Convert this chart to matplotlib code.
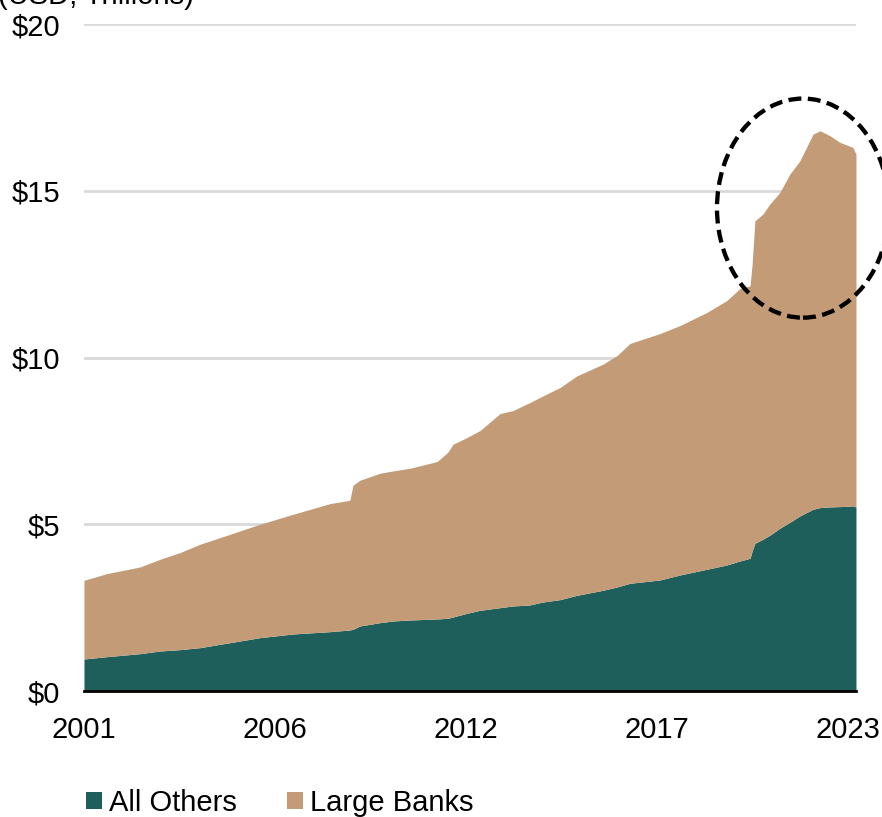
import matplotlib
matplotlib.use("Agg")
import matplotlib.pyplot as plt
from matplotlib.patches import Ellipse

# Weekly deposit levels sampled at turning points ($ trillions)
dates = [2001.00, 2001.66, 2002.62, 2003.20, 2003.77, 2004.35, 2005.22, 2006.08,
         2007.04, 2008.11, 2008.68, 2008.77, 2008.97, 2009.55, 2009.93, 2010.42,
         2011.20, 2011.51, 2011.66, 2012.06, 2012.44, 2013.02, 2013.39, 2013.88,
         2014.26, 2014.75, 2015.24, 2015.99, 2016.40, 2016.77, 2017.64, 2018.22,
         2018.99, 2019.57, 2019.95, 2020.24, 2020.30, 2020.38, 2020.61, 2020.81,
         2021.10, 2021.39, 2021.68, 2022.06, 2022.26, 2022.55, 2022.84, 2023.21,
         2023.30]

all_others = [0.96, 1.03, 1.12, 1.20, 1.24, 1.30, 1.45, 1.60,
              1.71, 1.78, 1.83, 1.85, 1.95, 2.05, 2.10, 2.13,
              2.16, 2.18, 2.22, 2.33, 2.42, 2.50, 2.55, 2.58,
              2.67, 2.74, 2.87, 3.02, 3.12, 3.23, 3.33, 3.48,
              3.65, 3.78, 3.90, 3.98, 4.20, 4.43, 4.55, 4.67,
              4.88, 5.06, 5.25, 5.45, 5.50, 5.52, 5.53, 5.55,
              5.52]

# All commercial bank deposits (All Others + Large Banks)
total_deposits = [3.32, 3.52, 3.72, 3.95, 4.15, 4.40, 4.70, 5.00,
                  5.30, 5.62, 5.72, 6.17, 6.32, 6.53, 6.60, 6.68,
                  6.88, 7.16, 7.40, 7.60, 7.81, 8.32, 8.41, 8.65,
                  8.85, 9.10, 9.45, 9.80, 10.06, 10.42, 10.72, 10.96,
                  11.35, 11.71, 12.07, 12.15, 12.80, 14.10, 14.30, 14.60,
                  14.95, 15.50, 15.90, 16.70, 16.80, 16.65, 16.45, 16.30,
                  16.10]

series_names = ["All Others", "Large Banks"]
x_tick_labels = ["2001", "2006", "2012", "2017", "2023"]
x_tick_step = 5.52  # years between labelled ticks
y_ticks = [0, 5, 10, 15, 20]
y_tick_labels = ["$0", "$5", "$10", "$15", "$20"]

teal = "#1e5e5b"
tan = "#c39c77"

plt.rcParams["font.family"] = ["Liberation Sans", "DejaVu Sans"]

fig = plt.figure(figsize=(8.82, 8.17), dpi=100)
ax = fig.add_axes([0.0952, 0.1542, 0.8753, 0.8164])

ax.fill_between(dates, 0, all_others, color=teal, linewidth=0, label=series_names[0])
ax.fill_between(dates, all_others, total_deposits, color=tan, linewidth=0,
                label=series_names[1])

x_start, x_end = dates[0], dates[-1]
ax.set_xlim(x_start, x_end)
ax.set_ylim(0, 20)

ax.set_xticks([x_start + i * x_tick_step for i in range(len(x_tick_labels))])
ax.set_xticklabels(x_tick_labels)
ax.set_yticks(y_ticks)
ax.set_yticklabels(y_tick_labels)

ax.tick_params(axis="both", length=0, labelsize=21, colors="black")
ax.tick_params(axis="y", pad=17)
ax.tick_params(axis="x", pad=18)

ax.grid(axis="y", color="#d9d9d9", linewidth=2)
ax.set_axisbelow(True)
for side in ["left", "right", "top"]:
    ax.spines[side].set_visible(False)
ax.spines["bottom"].set_color("black")
ax.spines["bottom"].set_linewidth(2)
ax.spines["bottom"].set_zorder(5)

# Highlight the post-2020 surge
ax.add_patch(Ellipse((2021.77, 14.48), 4.97, 6.57, fill=False, edgecolor="black",
                     linestyle=(0, (3.0, 1.5)), linewidth=3.1, clip_on=False, zorder=6))

fig.text(-0.002, 0.9957, "(USD, Trillions)", fontsize=21, ha="left", va="baseline")

handles, labels = ax.get_legend_handles_labels()
fig.legend(handles, labels, loc="lower left", bbox_to_anchor=(0.091, -0.007),
           ncol=2, frameon=False, fontsize=21, handlelength=0.55, handleheight=0.55,
           handletextpad=0.25, columnspacing=1.7, borderaxespad=0, borderpad=0.2)

fig.savefig("out.png", dpi=100)
